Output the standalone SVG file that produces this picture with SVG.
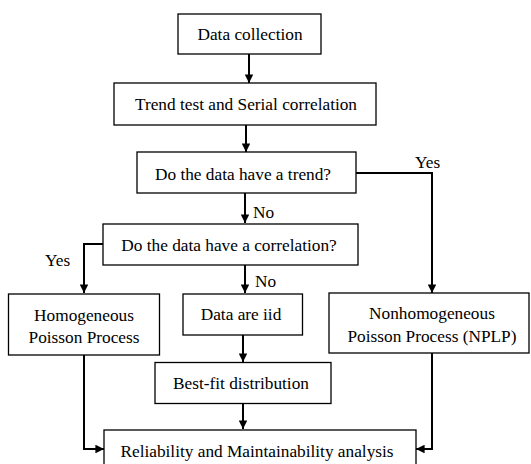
<svg xmlns="http://www.w3.org/2000/svg" width="531" height="464" viewBox="0 0 531 464">
  <style>
    .box { fill: #fff; stroke: #000; stroke-width: 1.3; }
    .lbl { font-family: 'Liberation Serif', 'DejaVu Serif', serif; font-size: 17.3px; fill: #000; text-anchor: middle; }
    .tag { font-family: 'Liberation Serif', 'DejaVu Serif', serif; font-size: 17.3px; fill: #000; }
    .edge { fill: none; stroke: #000; stroke-width: 2; marker-end: url(#head); }
  </style>
  <defs>
    <marker id="head" viewBox="0 0 10 10" refX="10" refY="5" markerWidth="4.3" markerHeight="4.3" orient="auto" markerUnits="strokeWidth">
      <path d="M0,0 L10,5 L0,10 Z" fill="#000"/>
    </marker>
  </defs>
  <rect width="531" height="464" fill="#fff"/>

  <g id="connectors">
    <path class="edge" d="M249,54 V83"/>
    <path class="edge" d="M246,125 V152"/>
    <path class="edge" d="M356,173 H432 V293"/>
    <path class="edge" d="M245,193 V223"/>
    <path class="edge" d="M103,244 H84 V293"/>
    <path class="edge" d="M245,265 V293"/>
    <path class="edge" d="M243,335 V362"/>
    <path class="edge" d="M243,403 V429"/>
    <path class="edge" d="M84,355 V449 H104"/>
    <path class="edge" d="M432,353 V449 H416"/>
    <text class="tag" x="415" y="168">Yes</text>
    <text class="tag" x="253" y="218">No</text>
    <text class="tag" x="45" y="266">Yes</text>
    <text class="tag" x="255" y="287">No</text>
  </g>

  <g id="data-collection">
    <rect class="box" x="178" y="14" width="143" height="40"/>
    <text class="lbl" x="250" y="40">Data collection</text>
  </g>
  <g id="trend-test">
    <rect class="box" x="114" y="83" width="262" height="42"/>
    <text class="lbl" x="246" y="110">Trend test and Serial correlation</text>
  </g>
  <g id="trend-question">
    <rect class="box" x="137" y="152" width="219" height="41"/>
    <text class="lbl" x="243" y="180">Do the data have a trend?</text>
  </g>
  <g id="correlation-question">
    <rect class="box" x="103" y="224" width="255" height="41"/>
    <text class="lbl" x="229" y="251">Do the data have a correlation?</text>
  </g>
  <g id="hpp">
    <rect class="box" x="8.5" y="294" width="151" height="61"/>
    <text class="lbl" x="84" y="321">Homogeneous</text>
    <text class="lbl" x="84" y="343">Poisson Process</text>
  </g>
  <g id="iid">
    <rect class="box" x="183" y="294" width="119.5" height="41"/>
    <text class="lbl" x="241" y="320">Data are iid</text>
  </g>
  <g id="nhpp">
    <rect class="box" x="329" y="293" width="200" height="60"/>
    <text class="lbl" x="432" y="319">Nonhomogeneous</text>
    <text class="lbl" x="432" y="342">Poisson Process (NPLP)</text>
  </g>
  <g id="best-fit">
    <rect class="box" x="155" y="362.5" width="176" height="41"/>
    <text class="lbl" x="241" y="389">Best-fit distribution</text>
  </g>
  <g id="reliability">
    <rect class="box" x="104" y="430" width="312" height="45"/>
    <text class="lbl" x="257" y="457">Reliability and Maintainability analysis</text>
  </g>
</svg>
